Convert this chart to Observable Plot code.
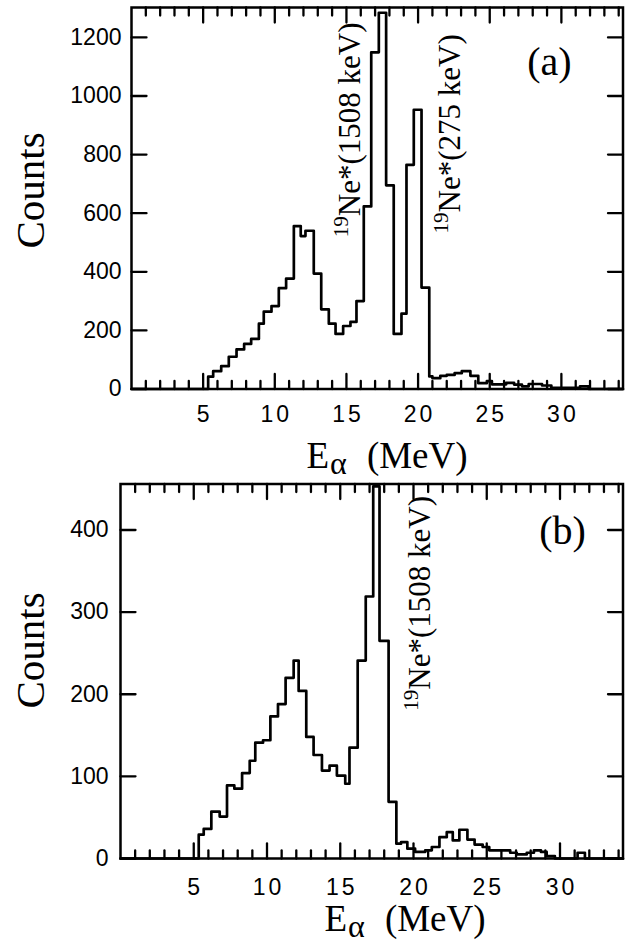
<!DOCTYPE html>
<html><head><meta charset="utf-8">
<script src="https://cdn.jsdelivr.net/npm/d3@7"></script>
<script src="https://cdn.jsdelivr.net/npm/@observablehq/plot@0.6"></script>
<style>
html,body{margin:0;padding:0;background:#fff;}
#chart svg{display:block;}
</style></head><body><div id="chart"></div>
<script>
// ---- Data ----
// Panel (a): left bin edges (MeV) and counts (step histogram)
const edgesA = [0, 5.35, 5.70, 6.26, 6.79, 7.33, 7.86, 8.35, 8.89, 9.23, 9.77, 10.28, 10.79, 11.33, 11.81, 12.14, 12.72, 13.24, 13.77, 14.24, 14.77, 15.28, 15.70, 16.21, 16.73, 17.26, 17.77, 18.30, 18.84, 19.19, 19.70, 20.24, 20.78, 21.00, 21.55, 22.00, 22.55, 23.05, 23.65, 24.20, 24.80, 25.15, 26.15, 26.70, 27.25, 27.72, 28.65, 29.30, 31.30, 31.90, 34.30];
const countsA = [0, 42, 61, 78, 110, 135, 154, 171, 223, 264, 283, 344, 377, 556, 522, 540, 394, 272, 223, 188, 215, 229, 300, 623, 1149, 1284, 695, 188, 257, 765, 953, 346, 43, 37, 45, 48, 54, 61, 45, 20, 27, 16, 21, 15, 9, 17, 12, 4, 9, 0, 0];
// Panel (b)
const edgesB = [0, 5.34, 5.68, 6.20, 6.77, 7.27, 7.77, 8.30, 8.82, 9.20, 9.73, 10.23, 10.75, 11.27, 11.82, 12.16, 12.68, 13.18, 13.75, 14.27, 14.77, 15.34, 15.63, 16.19, 16.74, 17.25, 17.68, 18.30, 18.83, 19.15, 19.58, 20.11, 20.80, 21.25, 21.77, 22.27, 22.68, 23.13, 23.68, 24.17, 24.72, 25.17, 26.60, 27.05, 27.73, 28.22, 28.70, 29.09, 29.65, 31.20, 31.70, 34.30];
const countsB = [0, 29, 36, 57, 51, 89, 85, 104, 119, 141, 144, 173, 188, 220, 241, 204, 148, 126, 107, 113, 101, 91, 135, 241, 319, 453, 265, 69, 18, 20, 12, 8, 10, 14, 26, 32, 22, 35, 23, 17, 14, 10, 7, 5, 7, 10, 8, 3, 0, 7, 0, 0];

const xDomain = [0, 34.3];
const xMajorTicks = [5, 10, 15, 20, 25, 30];
const xMinorTicks = [1,2,3,4,6,7,8,9,11,12,13,14,16,17,18,19,21,22,23,24,26,27,28,29,31,32,33,34];
const yTicksA = [0, 200, 400, 600, 800, 1000, 1200];
const yTicksB = [0, 100, 200, 300, 400];
const yMaxA = 1302;
const yMaxB = 456;

const annA = [
  {x: 15.95, y: 518, text: "19Ne*(1508 keV)"},
  {x: 22.93, y: 531, text: "19Ne*(275 keV)"}
];
const annB = [
  {x: 21.1, y: 180, text: "19Ne*(1508 keV)"}
];
const xTitle = "Eα (MeV)";
const yTitle = "Counts";

const SERIF = "Liberation Serif";
const SANS = "Liberation Sans";

// a plain line-shaped vector (no arrow head) used for inward ticks
const tickShape = {draw(context, l) { context.moveTo(0, 0); context.lineTo(0, -l); }};

function ticks(values, channel, frameAnchor, rotate, length) {
  const opts = {frameAnchor, rotate, length, anchor: "start", shape: tickShape,
    stroke: "black", strokeWidth: 2.3};
  opts[channel] = d => d;
  return Plot.vector(values, opts);
}

function panel(o) {
  const rows = o.edges.map((e, i) => ({e, c: o.counts[i]}));
  const W = 628, mr = 5.5;
  return Plot.plot({
    width: W, height: o.height,
    marginLeft: o.ml, marginRight: mr, marginTop: o.mt, marginBottom: o.mb,
    x: {domain: xDomain},
    y: {domain: [0, o.yMax]},
    style: {background: "white", fontFamily: SANS, overflow: "visible"},
    marks: [
      // tick labels
      Plot.axisX(xMajorTicks, {anchor: "bottom", tickSize: 0, tickPadding: o.xPad, dx: 1.5, fontSize: 23, fontFamily: SANS, fill: "black", label: null, tickFormat: d => String(d)}),
      Plot.axisY(o.yTicks, {anchor: "left", tickSize: 0, tickPadding: o.yPad, fontSize: 23, fontFamily: SANS, fill: "black", label: null, tickFormat: d => String(d)}),
      // histogram
      Plot.line(rows, {x: "e", y: "c", curve: "step-after", stroke: "black", strokeWidth: 2.7}),
      Plot.frame({stroke: "black", strokeWidth: 2.5}),
      // inward ticks on all four sides
      ticks(xMajorTicks, "x", "bottom", 0, 15),
      ticks(xMinorTicks, "x", "bottom", 0, 8),
      ticks(xMajorTicks, "x", "top", 180, 15),
      ticks(xMinorTicks, "x", "top", 180, 8),
      ticks(o.yTicks, "y", "left", 90, 15),
      ticks(o.yTicks, "y", "right", 270, 15),
      // annotations
      Plot.text(o.ann, {x: "x", y: "y", text: "text", rotate: -90, textAnchor: "start", lineAnchor: "bottom",
        fontFamily: SERIF, fontSize: 31, fill: "black"}),
      // panel letter
      Plot.text([o.letter], {frameAnchor: "top-right", text: d => d, dx: o.letterDx, dy: o.letterDy,
        textAnchor: "middle", lineAnchor: "middle", fontFamily: SERIF, fontSize: 40, fill: "black"}),
      // y title
      Plot.text([yTitle], {frameAnchor: "left", text: d => d, dx: o.cDx, dy: o.cDy,
        rotate: -90, textAnchor: "middle", lineAnchor: "bottom", fontFamily: SERIF, fontSize: 41, fill: "black"}),
      // x title
      Plot.text([xTitle], {frameAnchor: "bottom", text: d => d, dx: o.lDx, dy: o.lDy,
        textAnchor: "start", lineAnchor: "bottom", fontFamily: SERIF, fontSize: 37, fill: "black"})
    ]
  });
}

function fixTexts(svg) {
  d3.select(svg).selectAll('g[aria-label="x-axis tick label"] text').style("letter-spacing", "3px");
  d3.select(svg).selectAll("text").each(function () {
    const t = this.textContent;
    const s = d3.select(this);
    if (t.startsWith("19Ne")) {
      s.text("");
      s.append("tspan").attr("font-size", 21).attr("dy", -12).text("19");
      s.append("tspan").attr("dy", 12).text(t.slice(2));
    } else if (t === xTitle) {
      s.text("");
      s.append("tspan").text("E");
      s.append("tspan").attr("font-size", 32).attr("dy", 6).attr("dx", 1).text("α");
      s.append("tspan").attr("dy", -6).attr("dx", 20).text("(MeV)");
    }
  });
}

const svgA = panel({edges: edgesA, counts: countsA, yMax: yMaxA, yTicks: yTicksA,
  height: 470, ml: 131, mt: 7, mb: 81.5, ann: annA, letter: "(a)",
  letterDx: -73.5, letterDy: 55, cDx: -88, cDy: -7.75, lDx: -70.75, lDy: 78.5, xPad: 16.5, yPad: 10});
const svgB = panel({edges: edgesB, counts: countsB, yMax: yMaxB, yTicks: yTicksB,
  height: 473, ml: 120, mt: 13.5, mb: 85, ann: annB, letter: "(b)",
  letterDx: -60.5, letterDy: 47.5, cDx: -77, cDy: -20.75, lDx: -47.25, lDy: 72, xPad: 20, yPad: 12});
fixTexts(svgA); fixTexts(svgB);
document.getElementById("chart").append(svgA, svgB);
</script>
</body></html>
